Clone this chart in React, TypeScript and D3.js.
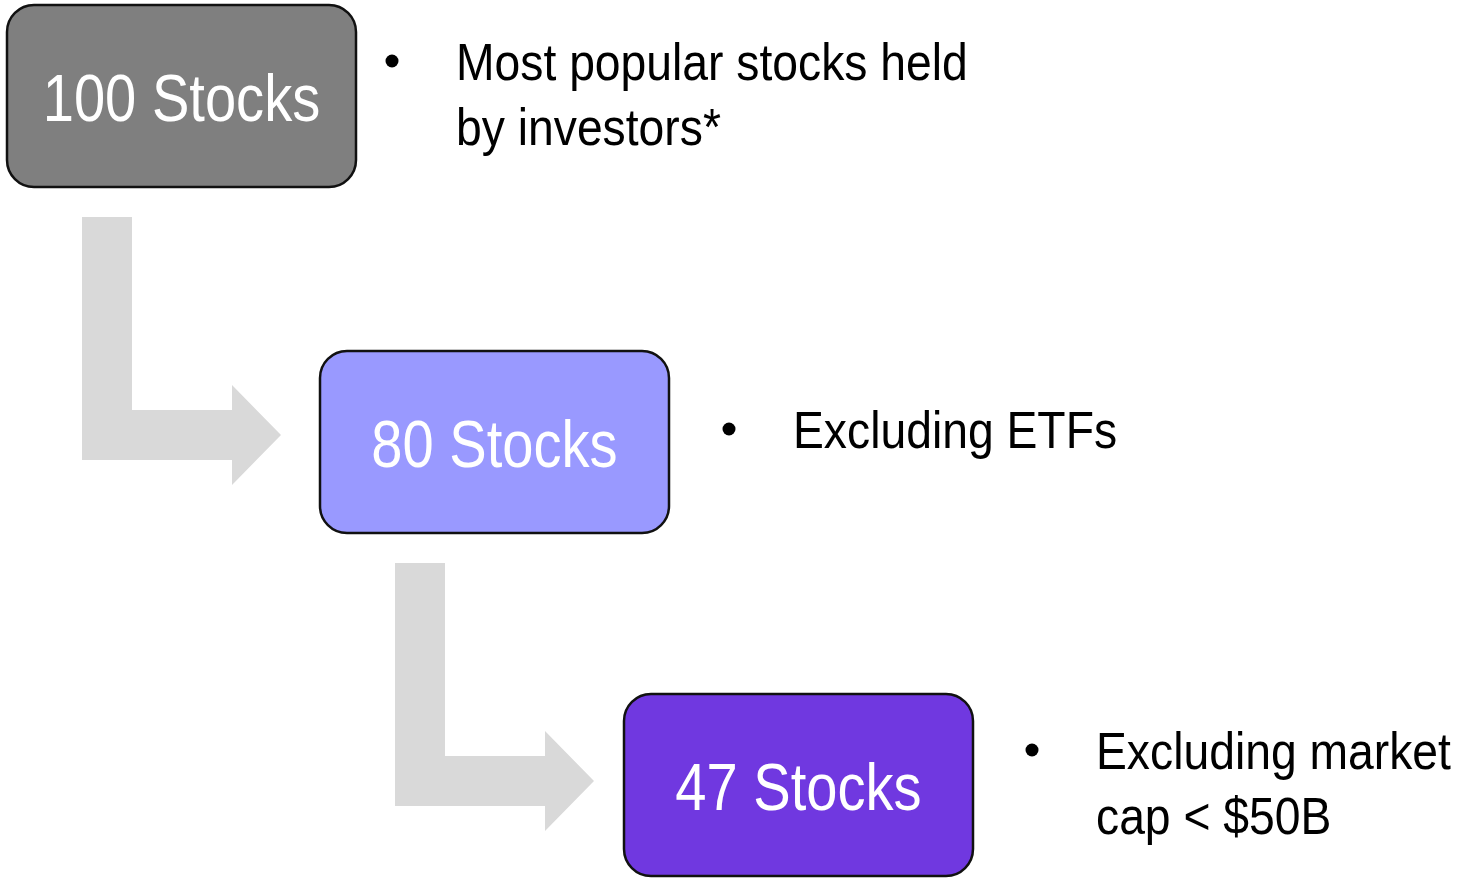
import React from 'react'
import * as d3 from 'd3'

// Funnel stages
const stageCounts = [100, 80, 47]
const stageLabels = stageCounts.map((n) => `${n} Stocks`)
const stageNotes = [
  ['Most popular stocks held', 'by investors*'],
  ['Excluding ETFs'],
  ['Excluding market', 'cap < $50B'],
]
const stageColors = ['#7f7f7f', '#9999ff', '#7038e0']

const W = 1467
const H = 878
// Arial-metric font squeezed horizontally to mimic the narrow face
const FONT = '"Liberation Sans", Arial, sans-serif'
const SQUEEZE = 0.85
const NOTE_SQUEEZE = 0.89

const boxW = 349
const boxH = 182

const App: React.FC = () => {
  const idx = d3.range(stageCounts.length)
  // stage index -> box top-left corner
  const x = d3.scaleLinear().domain([0, 1, 2]).range([7, 320, 624])
  const y = d3.scaleLinear().domain([0, 1, 2]).range([5, 351, 694])
  const noteX = [456, 793, 1096]

  // elbow arrow from stage i down into stage i+1
  const arrowPath = (i: number) => {
    const left = x(i) + 75
    const top = y(i) + boxH + 30
    const tipX = x(i) + 274
    const headBase = x(i) + 225
    const midY = y(i) + 430
    const half = 25
    const head = 50
    const p = d3.path()
    p.moveTo(left, top)
    p.lineTo(left + 2 * half, top)
    p.lineTo(left + 2 * half, midY - half)
    p.lineTo(headBase, midY - half)
    p.lineTo(headBase, midY - head)
    p.lineTo(tipX, midY)
    p.lineTo(headBase, midY + head)
    p.lineTo(headBase, midY + half)
    p.lineTo(left, midY + half)
    p.closePath()
    return p.toString()
  }

  return (
    <svg width={W} height={H} style={{ position: 'absolute', left: 0, top: 0 }}>
      <rect width={W} height={H} fill="#fff" />
      {idx.slice(0, -1).map((i) => (
        <path key={`a${i}`} d={arrowPath(i)} fill="#d9d9d9" />
      ))}
      {idx.map((i) => {
        const cy = y(i) + boxH / 2
        const lines = stageNotes[i]
        const firstBase = lines.length > 1 ? cy - 16 : cy + 6
        return (
          <g key={i}>
            <rect
              x={x(i)}
              y={y(i)}
              width={boxW}
              height={boxH}
              rx={27}
              ry={27}
              fill={stageColors[i]}
              stroke="#111"
              strokeWidth={2.5}
            />
            <text
              transform={`translate(${x(i) + boxW / 2},${cy + 25}) scale(${SQUEEZE},1)`}
              textAnchor="middle"
              fill="#fff"
              fontFamily={FONT}
              fontSize={66}
            >
              {stageLabels[i]}
            </text>
            <circle cx={noteX[i] - 64} cy={firstBase - 19} r={6.5} fill="#000" />
            {lines.map((line, j) => (
              <text
                key={j}
                transform={`translate(${noteX[i]},${firstBase + j * 65}) scale(${NOTE_SQUEEZE},1)`}
                fill="#000"
                fontFamily={FONT}
                fontSize={52}
              >
                {line}
              </text>
            ))}
          </g>
        )
      })}
    </svg>
  )
}

export default App
